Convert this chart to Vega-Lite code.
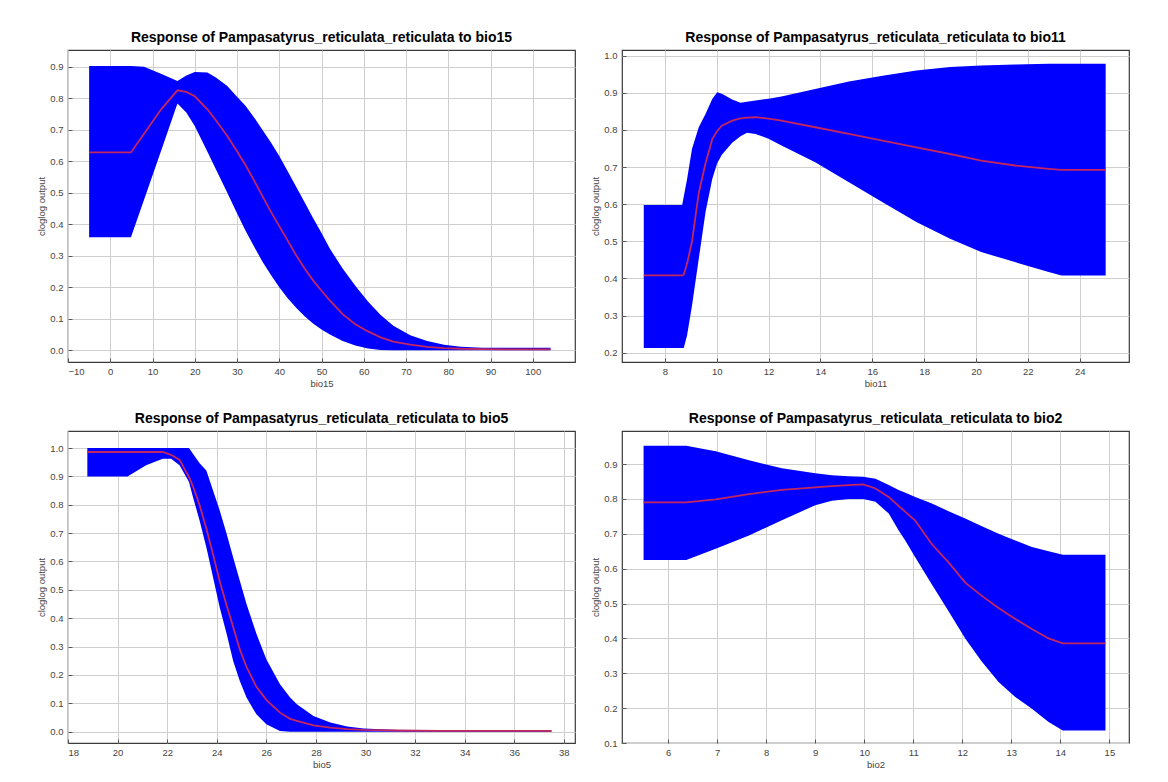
{
  "$schema": "https://vega.github.io/schema/vega-lite/v6.json",
  "background": "white",
  "padding": {"left": 36, "top": 30, "right": 10, "bottom": 5},
  "datasets": {
    "p1": [
      {"x": -5, "lo": 0.359, "hi": 0.902, "mean": 0.628},
      {"x": 4.9, "lo": 0.359, "hi": 0.902, "mean": 0.628},
      {"x": 8, "lo": 0.478, "hi": 0.9, "mean": 0.687},
      {"x": 12, "lo": 0.632, "hi": 0.878, "mean": 0.764},
      {"x": 15.9, "lo": 0.783, "hi": 0.855, "mean": 0.825},
      {"x": 18, "lo": 0.755, "hi": 0.872, "mean": 0.82},
      {"x": 20, "lo": 0.712, "hi": 0.883, "mean": 0.806},
      {"x": 23, "lo": 0.63, "hi": 0.882, "mean": 0.765},
      {"x": 25, "lo": 0.575, "hi": 0.866, "mean": 0.73},
      {"x": 27.7, "lo": 0.5, "hi": 0.839, "mean": 0.68},
      {"x": 30, "lo": 0.435, "hi": 0.805, "mean": 0.632},
      {"x": 32, "lo": 0.38, "hi": 0.776, "mean": 0.588},
      {"x": 34, "lo": 0.33, "hi": 0.74, "mean": 0.54},
      {"x": 36, "lo": 0.282, "hi": 0.7, "mean": 0.49},
      {"x": 38, "lo": 0.24, "hi": 0.66, "mean": 0.44},
      {"x": 40, "lo": 0.2, "hi": 0.617, "mean": 0.394},
      {"x": 42, "lo": 0.165, "hi": 0.568, "mean": 0.348},
      {"x": 44, "lo": 0.135, "hi": 0.519, "mean": 0.302},
      {"x": 46, "lo": 0.108, "hi": 0.47, "mean": 0.26},
      {"x": 48, "lo": 0.085, "hi": 0.42, "mean": 0.222},
      {"x": 50, "lo": 0.066, "hi": 0.372, "mean": 0.189},
      {"x": 52, "lo": 0.05, "hi": 0.322, "mean": 0.158},
      {"x": 55, "lo": 0.03, "hi": 0.26, "mean": 0.115},
      {"x": 58, "lo": 0.015, "hi": 0.205, "mean": 0.083},
      {"x": 61, "lo": 0.006, "hi": 0.155, "mean": 0.06},
      {"x": 64, "lo": 0.001, "hi": 0.112, "mean": 0.041},
      {"x": 67, "lo": 0.0, "hi": 0.078, "mean": 0.028},
      {"x": 71, "lo": 0.0, "hi": 0.048, "mean": 0.018},
      {"x": 75, "lo": 0.0, "hi": 0.03, "mean": 0.011},
      {"x": 79, "lo": 0.0, "hi": 0.018, "mean": 0.007},
      {"x": 83, "lo": 0.0, "hi": 0.011, "mean": 0.005},
      {"x": 88, "lo": 0.0, "hi": 0.008, "mean": 0.004},
      {"x": 95, "lo": 0.0, "hi": 0.008, "mean": 0.003},
      {"x": 104.2, "lo": 0.0, "hi": 0.008, "mean": 0.003}
    ],
    "p2": [
      {"x": 7.19, "lo": 0.213, "hi": 0.598, "mean": 0.408},
      {"x": 8.67, "lo": 0.213, "hi": 0.598, "mean": 0.408},
      {"x": 8.73, "lo": 0.213, "hi": 0.62, "mean": 0.41},
      {"x": 8.86, "lo": 0.247, "hi": 0.668, "mean": 0.44},
      {"x": 9.05, "lo": 0.327, "hi": 0.749, "mean": 0.5},
      {"x": 9.31, "lo": 0.453, "hi": 0.807, "mean": 0.63},
      {"x": 9.57, "lo": 0.578, "hi": 0.843, "mean": 0.71},
      {"x": 9.83, "lo": 0.668, "hi": 0.883, "mean": 0.775},
      {"x": 10.02, "lo": 0.71, "hi": 0.901, "mean": 0.797},
      {"x": 10.2, "lo": 0.733, "hi": 0.897, "mean": 0.811},
      {"x": 10.6, "lo": 0.765, "hi": 0.882, "mean": 0.825},
      {"x": 10.92, "lo": 0.783, "hi": 0.873, "mean": 0.831},
      {"x": 11.17, "lo": 0.792, "hi": 0.876, "mean": 0.833},
      {"x": 11.5, "lo": 0.789, "hi": 0.879, "mean": 0.834},
      {"x": 12, "lo": 0.776, "hi": 0.884, "mean": 0.83},
      {"x": 12.5, "lo": 0.758, "hi": 0.89, "mean": 0.825},
      {"x": 13.8, "lo": 0.713, "hi": 0.91, "mean": 0.807},
      {"x": 15.1, "lo": 0.659, "hi": 0.93, "mean": 0.789},
      {"x": 16.4, "lo": 0.605, "hi": 0.946, "mean": 0.771},
      {"x": 17.7, "lo": 0.552, "hi": 0.96, "mean": 0.753},
      {"x": 19, "lo": 0.507, "hi": 0.969, "mean": 0.735},
      {"x": 20.2, "lo": 0.471, "hi": 0.973, "mean": 0.717},
      {"x": 21.5, "lo": 0.444, "hi": 0.976, "mean": 0.704},
      {"x": 22.8, "lo": 0.417, "hi": 0.978, "mean": 0.695},
      {"x": 23.3, "lo": 0.408, "hi": 0.978, "mean": 0.692},
      {"x": 25, "lo": 0.408, "hi": 0.978, "mean": 0.692}
    ],
    "p3": [
      {"x": 18.78, "lo": 0.9, "hi": 1.0, "mean": 0.986},
      {"x": 20.4, "lo": 0.9, "hi": 1.0, "mean": 0.986},
      {"x": 21.15, "lo": 0.939, "hi": 1.0, "mean": 0.986},
      {"x": 21.82, "lo": 0.962, "hi": 1.0, "mean": 0.986},
      {"x": 22.16, "lo": 0.962, "hi": 1.0, "mean": 0.976},
      {"x": 22.5, "lo": 0.939, "hi": 1.0, "mean": 0.958},
      {"x": 22.77, "lo": 0.898, "hi": 1.0, "mean": 0.915},
      {"x": 22.88, "lo": 0.88, "hi": 1.0, "mean": 0.898},
      {"x": 23.04, "lo": 0.827, "hi": 0.98, "mean": 0.865},
      {"x": 23.31, "lo": 0.744, "hi": 0.946, "mean": 0.798},
      {"x": 23.58, "lo": 0.65, "hi": 0.921, "mean": 0.716},
      {"x": 23.85, "lo": 0.544, "hi": 0.85, "mean": 0.625},
      {"x": 24.12, "lo": 0.438, "hi": 0.78, "mean": 0.53},
      {"x": 24.4, "lo": 0.344, "hi": 0.697, "mean": 0.445},
      {"x": 24.66, "lo": 0.25, "hi": 0.615, "mean": 0.37},
      {"x": 24.93, "lo": 0.179, "hi": 0.532, "mean": 0.29},
      {"x": 25.2, "lo": 0.12, "hi": 0.45, "mean": 0.228},
      {"x": 25.6, "lo": 0.061, "hi": 0.345, "mean": 0.158},
      {"x": 26.0, "lo": 0.026, "hi": 0.255, "mean": 0.112},
      {"x": 26.55, "lo": 0.002, "hi": 0.167, "mean": 0.067},
      {"x": 26.96, "lo": 0.0, "hi": 0.12, "mean": 0.045},
      {"x": 27.23, "lo": 0.0, "hi": 0.097, "mean": 0.038},
      {"x": 27.9, "lo": 0.0, "hi": 0.055, "mean": 0.022},
      {"x": 28.58, "lo": 0.0, "hi": 0.032, "mean": 0.014},
      {"x": 29.26, "lo": 0.0, "hi": 0.018, "mean": 0.009},
      {"x": 29.93, "lo": 0.0, "hi": 0.011, "mean": 0.006},
      {"x": 31.3, "lo": 0.0, "hi": 0.006, "mean": 0.004},
      {"x": 33, "lo": 0.0, "hi": 0.005, "mean": 0.003},
      {"x": 37.5, "lo": 0.0, "hi": 0.005, "mean": 0.003}
    ],
    "p4": [
      {"x": 5.5, "lo": 0.625, "hi": 0.953, "mean": 0.79},
      {"x": 6.37, "lo": 0.625, "hi": 0.953, "mean": 0.79},
      {"x": 6.97, "lo": 0.657, "hi": 0.937, "mean": 0.799},
      {"x": 7.65, "lo": 0.695, "hi": 0.911, "mean": 0.814},
      {"x": 8.32, "lo": 0.739, "hi": 0.888, "mean": 0.826},
      {"x": 9.0, "lo": 0.782, "hi": 0.874, "mean": 0.833},
      {"x": 9.34, "lo": 0.795, "hi": 0.868, "mean": 0.837},
      {"x": 9.68, "lo": 0.8, "hi": 0.865, "mean": 0.84},
      {"x": 9.98, "lo": 0.8, "hi": 0.864, "mean": 0.842},
      {"x": 10.23, "lo": 0.792, "hi": 0.858, "mean": 0.83},
      {"x": 10.5, "lo": 0.758, "hi": 0.84, "mean": 0.806},
      {"x": 10.7, "lo": 0.71, "hi": 0.826, "mean": 0.78},
      {"x": 10.84, "lo": 0.68, "hi": 0.818, "mean": 0.763},
      {"x": 11.04, "lo": 0.633, "hi": 0.806, "mean": 0.738},
      {"x": 11.38, "lo": 0.555, "hi": 0.787, "mean": 0.67},
      {"x": 11.72, "lo": 0.478, "hi": 0.765, "mean": 0.618},
      {"x": 12.06, "lo": 0.4, "hi": 0.744, "mean": 0.56},
      {"x": 12.4, "lo": 0.333, "hi": 0.722, "mean": 0.522},
      {"x": 12.74, "lo": 0.275, "hi": 0.7, "mean": 0.487},
      {"x": 13.08, "lo": 0.232, "hi": 0.681, "mean": 0.456},
      {"x": 13.42, "lo": 0.198, "hi": 0.662, "mean": 0.427},
      {"x": 13.76, "lo": 0.16, "hi": 0.65, "mean": 0.4},
      {"x": 14.05, "lo": 0.136, "hi": 0.64, "mean": 0.386},
      {"x": 14.92, "lo": 0.136, "hi": 0.64, "mean": 0.386}
    ]
  },
  "columns": 2,
  "bounds": "flush",
  "spacing": {"row": 69, "column": 47},
  "concat": [
    {
      "width": 507, "height": 312,
      "title": "Response of Pampasatyrus_reticulata_reticulata to bio15",
      "data": {"name": "p1"},
      "encoding": {
        "x": {"field": "x", "type": "quantitative", "title": "bio15",
          "scale": {"domain": [-10, 110], "nice": false, "zero": false},
          "axis": {"values": [-10, 0, 10, 20, 30, 40, 50, 60, 70, 80, 90, 100]}}
      },
      "layer": [
        {"mark": {"type": "area", "color": "#0000ff", "opacity": 1, "clip": true},
         "encoding": {"y": {"field": "lo", "type": "quantitative", "title": "cloglog output",
           "scale": {"domain": [-0.037, 0.953], "nice": false, "zero": false},
           "axis": {"values": [0, 0.1, 0.2, 0.3, 0.4, 0.5, 0.6, 0.7, 0.8, 0.9], "format": ".1f"}},
           "y2": {"field": "hi"}}},
        {"mark": {"type": "line", "color": "#c4265e", "strokeWidth": 1.8, "clip": true},
         "encoding": {"y": {"field": "mean", "type": "quantitative", "title": "cloglog output",
           "axis": {"values": [0, 0.1, 0.2, 0.3, 0.4, 0.5, 0.6, 0.7, 0.8, 0.9], "format": ".1f"}}}}
      ]
    },
    {
      "width": 507, "height": 312,
      "title": "Response of Pampasatyrus_reticulata_reticulata to bio11",
      "data": {"name": "p2"},
      "encoding": {
        "x": {"field": "x", "type": "quantitative", "title": "bio11",
          "scale": {"domain": [6.35, 25.9], "nice": false, "zero": false},
          "axis": {"values": [8, 10, 12, 14, 16, 18, 20, 22, 24]}}
      },
      "layer": [
        {"mark": {"type": "area", "color": "#0000ff", "opacity": 1, "clip": true},
         "encoding": {"y": {"field": "lo", "type": "quantitative", "title": "cloglog output",
           "scale": {"domain": [0.175, 1.015], "nice": false, "zero": false},
           "axis": {"values": [0.2, 0.3, 0.4, 0.5, 0.6, 0.7, 0.8, 0.9, 1.0], "format": ".1f"}},
           "y2": {"field": "hi"}}},
        {"mark": {"type": "line", "color": "#c4265e", "strokeWidth": 1.8, "clip": true},
         "encoding": {"y": {"field": "mean", "type": "quantitative", "title": "cloglog output",
           "axis": {"values": [0.2, 0.3, 0.4, 0.5, 0.6, 0.7, 0.8, 0.9, 1.0], "format": ".1f"}}}}
      ]
    },
    {
      "width": 507, "height": 312,
      "title": "Response of Pampasatyrus_reticulata_reticulata to bio5",
      "data": {"name": "p3"},
      "encoding": {
        "x": {"field": "x", "type": "quantitative", "title": "bio5",
          "scale": {"domain": [18, 38.45], "nice": false, "zero": false},
          "axis": {"values": [18, 20, 22, 24, 26, 28, 30, 32, 34, 36, 38]}}
      },
      "layer": [
        {"mark": {"type": "area", "color": "#0000ff", "opacity": 1, "clip": true},
         "encoding": {"y": {"field": "lo", "type": "quantitative", "title": "cloglog output",
           "scale": {"domain": [-0.04, 1.06], "nice": false, "zero": false},
           "axis": {"values": [0, 0.1, 0.2, 0.3, 0.4, 0.5, 0.6, 0.7, 0.8, 0.9, 1.0], "format": ".1f"}},
           "y2": {"field": "hi"}}},
        {"mark": {"type": "line", "color": "#c4265e", "strokeWidth": 1.8, "clip": true},
         "encoding": {"y": {"field": "mean", "type": "quantitative", "title": "cloglog output",
           "axis": {"values": [0, 0.1, 0.2, 0.3, 0.4, 0.5, 0.6, 0.7, 0.8, 0.9, 1.0], "format": ".1f"}}}}
      ]
    },
    {
      "width": 507, "height": 312,
      "title": "Response of Pampasatyrus_reticulata_reticulata to bio2",
      "data": {"name": "p4"},
      "encoding": {
        "x": {"field": "x", "type": "quantitative", "title": "bio2",
          "scale": {"domain": [5.06, 15.4], "nice": false, "zero": false},
          "axis": {"values": [6, 7, 8, 9, 10, 11, 12, 13, 14, 15]}}
      },
      "layer": [
        {"mark": {"type": "area", "color": "#0000ff", "opacity": 1, "clip": true},
         "encoding": {"y": {"field": "lo", "type": "quantitative", "title": "cloglog output",
           "scale": {"domain": [0.1, 0.995], "nice": false, "zero": false},
           "axis": {"values": [0.1, 0.2, 0.3, 0.4, 0.5, 0.6, 0.7, 0.8, 0.9], "format": ".1f"}},
           "y2": {"field": "hi"}}},
        {"mark": {"type": "line", "color": "#c4265e", "strokeWidth": 1.8, "clip": true},
         "encoding": {"y": {"field": "mean", "type": "quantitative", "title": "cloglog output",
           "axis": {"values": [0.1, 0.2, 0.3, 0.4, 0.5, 0.6, 0.7, 0.8, 0.9], "format": ".1f"}}}}
      ]
    }
  ],
  "config": {
    "view": {"stroke": "#3a3a3a", "strokeWidth": 1.2},
    "font": "Liberation Sans",
    "title": {"font": "Liberation Sans", "fontSize": 14, "fontWeight": "bold", "color": "#000000", "offset": 5},
    "axis": {
      "labelFont": "Liberation Sans", "labelFontSize": 9.5, "labelColor": "#444444", "labelOverlap": false,
      "titleFont": "Liberation Sans", "titleFontSize": 9.5, "titleFontWeight": "normal", "titleColor": "#444444",
      "grid": true, "gridColor": "#cfcfcf", "gridWidth": 1,
      "domain": false, "ticks": true, "tickColor": "#555555", "tickSize": -4, "labelPadding": 8,
      "titlePadding": 3
    },
    "axisY": {"labelPadding": 9}
  }
}
